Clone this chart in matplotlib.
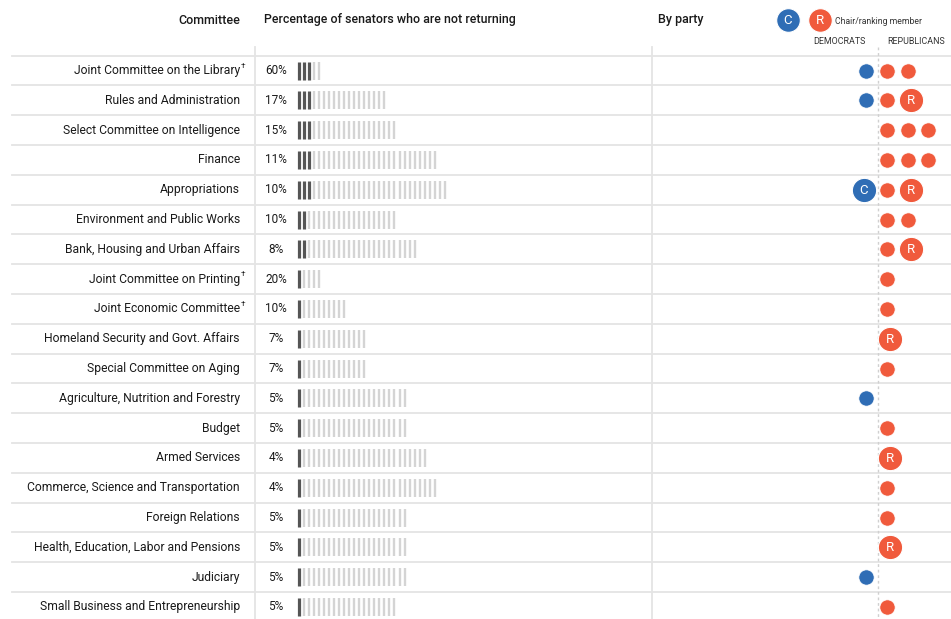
import matplotlib
matplotlib.use("Agg")
import matplotlib.pyplot as plt

plt.rcParams['font.family'] = ['Roboto', 'DejaVu Sans']

committees = [
    "Joint Committee on the Library", "Rules and Administration",
    "Select Committee on Intelligence", "Finance", "Appropriations",
    "Environment and Public Works", "Bank, Housing and Urban Affairs",
    "Joint Committee on Printing", "Joint Economic Committee",
    "Homeland Security and Govt. Affairs", "Special Committee on Aging",
    "Agriculture, Nutrition and Forestry", "Budget", "Armed Services",
    "Commerce, Science and Transportation", "Foreign Relations",
    "Health, Education, Labor and Pensions", "Judiciary",
    "Small Business and Entrepreneurship",
]
joint = [True, False, False, False, False, False, False, True, True,
         False, False, False, False, False, False, False, False, False, False]
members_total = [5, 18, 20, 28, 30, 20, 24, 5, 10, 14, 14, 22, 22, 26, 28, 22, 22, 22, 20]
not_returning = [3, 3, 3, 3, 3, 2, 2, 1, 1, 1, 1, 1, 1, 1, 1, 1, 1, 1, 1]
pct_labels = ["60%", "17%", "15%", "11%", "10%", "10%", "8%", "20%", "10%", "7%",
              "7%", "5%", "5%", "4%", "4%", "5%", "5%", "5%", "5%"]
# 'm' = departing member, 'C'/'R' = departing chair / ranking member
dem_departing = ["m", "m", "", "", "C", "", "", "", "", "", "", "m", "", "", "", "", "", "m", ""]
rep_departing = ["mm", "mR", "mmm", "mmm", "mR", "mm", "mR", "m", "m", "R", "m", "", "m",
                 "R", "m", "m", "R", "", "m"]

BLUE = "#2f6db5"
RED = "#f05a3c"
DARK = "#555555"
LIGHT = "#d4d4d4"
GRID = "#e4e4e4"
TXT = "#1a1a1a"

W, H = 951, 619
fig = plt.figure(figsize=(W / 100, H / 100), dpi=100)
ax = fig.add_axes([0, 0, 1, 1])
ax.set_xlim(0, W)
ax.set_ylim(H, 0)
ax.axis("off")

y0, dy = 70.5, 29.8
rows_y = [y0 + i * dy for i in range(len(committees))]

# row separators
for i in range(len(committees) + 1):
    yy = y0 + (i - 0.5) * dy
    ax.plot([12, W], [yy, yy], color=GRID, lw=1.3, zorder=0)

# column separators
ax.plot([255, 255], [47, H], color=GRID, lw=1.3, zorder=0)
ax.plot([652, 652], [47, H], color=GRID, lw=1.3, zorder=0)
ax.plot([878, 878], [47, H], color="#d0d0d0", lw=1, ls=(0, (2, 2)), zorder=0)

# headers
ax.text(240, 20, "Committee", ha="right", va="center", fontsize=9, color=TXT, weight="medium")
ax.text(264, 20, "Percentage of senators who are not returning", ha="left", va="center",
        fontsize=8.9, color=TXT, weight="medium")
ax.text(658, 20, "By party", ha="left", va="center", fontsize=9, color=TXT, weight="medium")
ax.plot([788], [20], "o", ms=17, color=BLUE, mec="white", mew=0.8)
ax.text(788, 20.5, "C", ha="center", va="center", fontsize=9.5, color="white")
ax.plot([820], [20], "o", ms=17, color=RED, mec="white", mew=0.8)
ax.text(820, 20.5, "R", ha="center", va="center", fontsize=9.5, color="white")
ax.text(835, 21, "Chair/ranking member", ha="left", va="center", fontsize=6.2, color="#333")
ax.text(866, 42, "DEMOCRATS", ha="right", va="center", fontsize=6.4, color="#333")
ax.text(887, 42, "REPUBLICANS", ha="left", va="center", fontsize=6.4, color="#333")

tick_x0, tick_dx = 298.5, 5.05
dem_x0, rep_x0, slot = 866, 887, 20.5

for i, name in enumerate(committees):
    y = rows_y[i]
    ax.text(240, y, name, ha="right", va="center", fontsize=8.75, color=TXT)
    if joint[i]:
        ax.text(241, y - 5, "†", ha="left", va="center", fontsize=6, color=TXT)
    ax.text(276, y, pct_labels[i], ha="center", va="center", fontsize=8.5, color=TXT)
    xs = [tick_x0 + k * tick_dx for k in range(members_total[i])]
    nr = not_returning[i]
    ax.vlines(xs[nr:], y - 9, y + 9, color=LIGHT, lw=1.7)
    ax.vlines(xs[:nr], y - 9, y + 9, color=DARK, lw=2.3)
    # party dots
    for k, c in enumerate(dem_departing[i]):
        x = dem_x0 - k * slot
        if c == "m":
            ax.plot([x], [y], "o", ms=11, color=BLUE, mec="white", mew=0.5)
        else:
            ax.plot([x - 2], [y], "o", ms=17.5, color=BLUE, mec="white", mew=0.8)
            ax.text(x - 2, y + 0.5, c, ha="center", va="center", fontsize=9.5, color="white")
    for k, c in enumerate(rep_departing[i]):
        x = rep_x0 + k * slot
        if c == "m":
            ax.plot([x], [y], "o", ms=11, color=RED, mec="white", mew=0.5)
        else:
            xx = x + 3
            ax.plot([xx], [y], "o", ms=17.5, color=RED, mec="white", mew=0.8)
            ax.text(xx, y + 0.5, c, ha="center", va="center", fontsize=9.5, color="white")

fig.savefig("out.png", dpi=100, facecolor="white")
